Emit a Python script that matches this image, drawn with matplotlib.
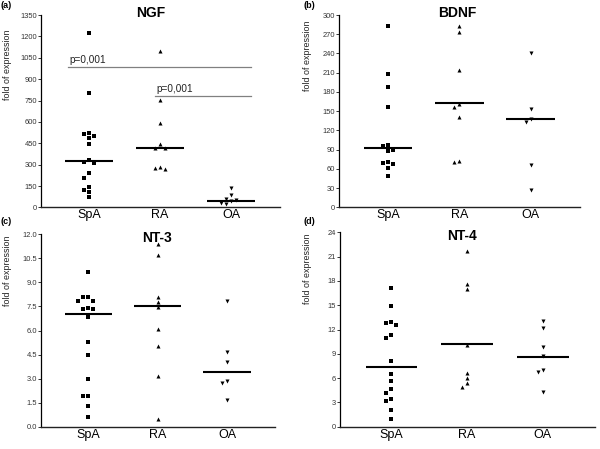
import numpy as np
import matplotlib
matplotlib.use("Agg")
import matplotlib.pyplot as plt

plt.rcParams['font.family'] = ['Liberation Sans', 'DejaVu Sans']

groups = ["SpA", "RA", "OA"]
markers = ["s", "^", "v"]

panel_titles = ["NGF", "BDNF", "NT-3", "NT-4"]
panel_letters = ["(a)", "(b)", "(c)", "(d)"]

ngf_spa = [1224, 805, 519, 514, 501, 484, 445, 330, 318, 312, 239, 208, 145, 122, 110, 75]
ngf_ra = [1100, 753, 590, 445, 414, 414, 285, 276, 271]
ngf_oa = [133, 85, 56, 52, 47, 28, 22]
ngf_med = [323, 419, 47]

bdnf_spa = [283, 208, 187, 157, 97, 95, 90, 88, 71, 69, 68, 62, 49]
bdnf_ra = [283, 273, 214, 162, 157, 141, 73, 71]
bdnf_oa = [240, 153, 138, 133, 66, 27]
bdnf_med = [93, 163, 138]

nt3_spa = [9.63, 8.11, 8.11, 7.82, 7.82, 7.40, 7.32, 7.32, 6.82, 5.30, 4.49, 3.0, 1.89, 1.89, 1.27, 0.58]
nt3_ra = [11.42, 10.69, 8.09, 7.78, 7.47, 6.12, 5.01, 3.18, 0.48]
nt3_oa = [7.86, 4.64, 4.01, 2.83, 2.72, 1.68]
nt3_med = [7.05, 7.51, 3.39]

nt4_spa = [17.08, 14.86, 12.97, 12.80, 12.60, 11.36, 10.95, 8.07, 6.50, 5.60, 4.61, 4.16, 3.46, 3.13, 2.10, 0.99]
nt4_ra = [21.74, 17.66, 17.04, 10.13, 6.63, 6.01, 5.39, 4.86]
nt4_oa = [13.01, 12.19, 9.84, 8.69, 6.96, 6.75, 4.32]
nt4_med = [7.33, 10.17, 8.60]

ngf_ticks = np.arange(0, 1351, 150)
bdnf_ticks = np.arange(0, 301, 30)
nt3_ticks = np.arange(0, 12.01, 1.5)
nt4_ticks = np.arange(0, 24.1, 3)

pval_y = [983, 779]
pval_labels = ["p=0,001", "p=0,001"]

fig = plt.figure(figsize=(6.0, 4.49), dpi=100)

W, H = 600.0, 449.0
rects_px = [
    (41, 280, 15, 207.4),
    (339.3, 580, 15, 207.4),
    (41, 275, 234.3, 426.7),
    (340, 595, 232.3, 426.7),
]
axes = []
for (l, r, t, b) in rects_px:
    axes.append(fig.add_axes([l / W, 1 - b / H, (r - l) / W, (b - t) / H]))

datasets = [
    ([ngf_spa, ngf_ra, ngf_oa], ngf_med, ngf_ticks, "%d"),
    ([bdnf_spa, bdnf_ra, bdnf_oa], bdnf_med, bdnf_ticks, "%d"),
    ([nt3_spa, nt3_ra, nt3_oa], nt3_med, nt3_ticks, "%.1f"),
    ([nt4_spa, nt4_ra, nt4_oa], nt4_med, nt4_ticks, "%d"),
]
title_x = [0.46, 0.49, 0.494, 0.478]
title_y = [1.011, 1.011, 0.983, 0.979]
ylabel_pos = [(-0.121, 0.74), (-0.115, 0.79), (-0.125, 0.81), (-0.111, 0.815)]
letter_pos = [(0.001, 1 - 5.5 / H), (303 / W, 1 - 5.5 / H), (0.001, 1 - 221 / H), (303 / W, 1 - 222 / H)]


def swarm_offsets(vals, px_per_unit, px_per_x, step_px=5.0, thresh=4.8):
    order = np.argsort(vals)[::-1]
    placed = []
    offs = np.zeros(len(vals))
    for i in order:
        ypx = vals[i] * px_per_unit
        for k in [0, -1, 1, -2, 2, -3, 3]:
            ok = True
            for (py, pk) in placed:
                if pk == k and abs(py - ypx) < thresh:
                    ok = False
                    break
            if ok:
                break
        placed.append((ypx, k))
        offs[i] = k * step_px / px_per_x
    return offs


for idx, ax in enumerate(axes):
    series, med, ticks, fmt = datasets[idx]
    ymax = ticks[-1]
    ax.set_xlim(0.32, 3.69)
    ax.set_ylim(0, ymax)
    l, r, t, b = rects_px[idx]
    px_per_unit = (b - t) / ymax
    px_per_x = (r - l) / (3.69 - 0.32)
    for g, vals in enumerate(series):
        vals = np.array(vals, dtype=float)
        offs = swarm_offsets(vals, px_per_unit, px_per_x)
        ax.plot(g + 1 + offs, vals, linestyle='none', marker=markers[g],
                markersize=2.7 if markers[g] == 's' else 2.9, color='black',
                markeredgewidth=0, clip_on=False, zorder=3)
        ax.plot([g + 1 - 0.34, g + 1 + 0.34], [med[g], med[g]], color='black',
                lw=1.5, solid_capstyle='butt', zorder=4)
    ax.set_xticks([1, 2, 3])
    ax.set_xticklabels(groups, fontsize=9)
    ax.set_yticks(ticks)
    ax.set_yticklabels([fmt % v for v in ticks])
    ax.tick_params(axis='x', length=0, pad=1.5, colors='black')
    ax.tick_params(axis='y', length=2.4, width=0.7, pad=0.6, labelsize=5.4,
                   labelcolor='#333333', color='#333333')
    for s in ['top', 'right']:
        ax.spines[s].set_visible(False)
    ax.spines['left'].set_linewidth(0.9)
    ax.spines['bottom'].set_linewidth(1.0)
    ax.spines['bottom'].set_color('#222222')
    ax.set_ylabel("fold of expression", fontsize=6.4, color='#222222')
    ax.yaxis.set_label_coords(*ylabel_pos[idx])
    ax.text(title_x[idx], title_y[idx], panel_titles[idx], transform=ax.transAxes,
            ha='center', va='center', fontsize=10, fontweight='bold')
    fig.text(letter_pos[idx][0], letter_pos[idx][1], panel_letters[idx],
             ha='left', va='center', fontsize=6.5, fontweight='bold')

ax = axes[0]
pstarts = [0.70, 1.93]
pend = 3.28
for ps, py, pl in zip(pstarts, pval_y, pval_labels):
    ax.plot([ps, pend], [py, py], color='#808080', lw=0.9, zorder=2)
    ax.annotate(pl, xy=(ps, py), xytext=(1, 2), textcoords='offset points',
                ha='left', va='bottom', fontsize=7.2, color='#222222')

fig.savefig("out.png", dpi=100)
